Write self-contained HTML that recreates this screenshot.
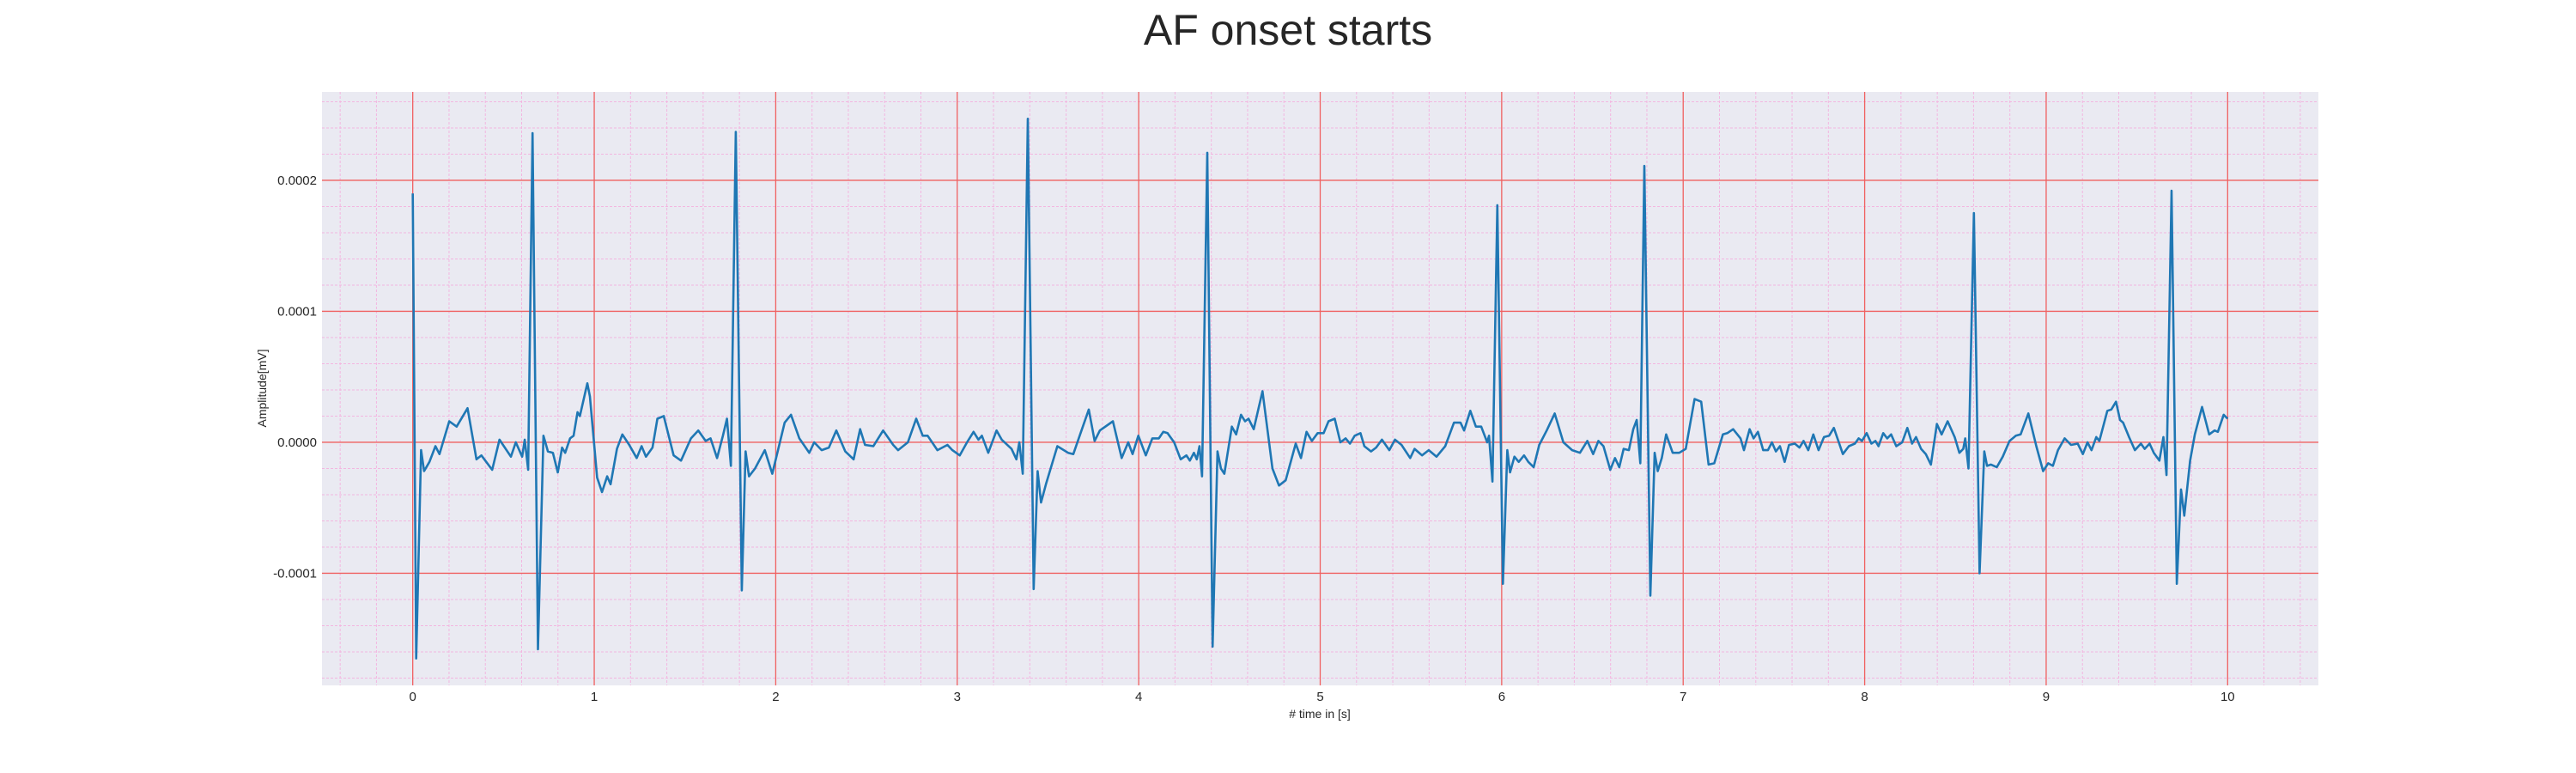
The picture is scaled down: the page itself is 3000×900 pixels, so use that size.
<!DOCTYPE html>
<html><head><meta charset="utf-8">
<style>
html,body{margin:0;padding:0;background:#fff;}
svg{display:block;font-family:"Liberation Sans",sans-serif;}
</style></head>
<body>
<svg id="chart" width="3000" height="900" xmlns="http://www.w3.org/2000/svg">
<text x="1500" y="52" text-anchor="middle" font-size="50" fill="#262626">AF onset starts</text>
<rect x="375" y="107" width="2325" height="691" fill="#eaeaf2"/>
<g id="grid"></g>
<g id="ticks"></g>
<path id="ecg" fill="none" stroke="#1f77b4" stroke-width="2.6" stroke-linejoin="round"/>
<text x="1537" y="836" text-anchor="middle" font-size="14" fill="#262626"># time in [s]</text>
<text transform="translate(310,452) rotate(-90)" text-anchor="middle" font-size="14" fill="#262626">Amplitude[mV]</text>
</svg>
<script>
// data (time in s, amplitude in 1e-5 mV)
const times = [0,0.019,0.046,0.0625,0.092,0.125,0.147,0.201,0.242,0.302,0.351,0.378,0.4375,0.478,0.541,0.568,0.603,0.617,0.636,0.66,0.69,0.72,0.745,0.772,0.799,0.823,0.84,0.867,0.886,0.908,0.921,0.962,0.976,1.016,1.043,1.071,1.09,1.125,1.155,1.193,1.234,1.261,1.285,1.321,1.348,1.383,1.4375,1.478,1.533,1.573,1.614,1.641,1.677,1.709,1.731,1.753,1.78,1.813,1.834,1.853,1.886,1.94,1.981,2.049,2.084,2.13,2.185,2.212,2.253,2.293,2.334,2.383,2.429,2.465,2.492,2.538,2.592,2.647,2.674,2.728,2.774,2.81,2.837,2.891,2.946,2.973,3.014,3.054,3.09,3.117,3.136,3.171,3.217,3.245,3.299,3.326,3.342,3.361,3.389,3.421,3.443,3.462,3.489,3.552,3.611,3.64,3.677,3.725,3.757,3.786,3.858,3.906,3.942,3.966,3.998,4.039,4.075,4.111,4.135,4.159,4.195,4.231,4.263,4.282,4.304,4.32,4.335,4.349,4.378,4.407,4.434,4.453,4.472,4.513,4.537,4.564,4.586,4.605,4.634,4.682,4.737,4.773,4.81,4.865,4.894,4.925,4.954,4.986,5.019,5.046,5.08,5.111,5.14,5.164,5.19,5.222,5.243,5.28,5.308,5.34,5.381,5.412,5.448,5.496,5.52,5.561,5.598,5.641,5.689,5.737,5.773,5.793,5.827,5.858,5.887,5.92,5.93,5.949,5.976,6.007,6.031,6.046,6.07,6.094,6.123,6.147,6.176,6.207,6.248,6.292,6.34,6.388,6.431,6.472,6.504,6.533,6.561,6.598,6.624,6.648,6.672,6.701,6.725,6.744,6.764,6.786,6.819,6.843,6.86,6.882,6.906,6.942,6.978,7.014,7.063,7.099,7.14,7.171,7.219,7.243,7.275,7.316,7.335,7.366,7.388,7.412,7.441,7.467,7.489,7.511,7.533,7.559,7.583,7.615,7.641,7.663,7.689,7.717,7.746,7.776,7.804,7.83,7.88,7.913,7.946,7.967,7.985,8.011,8.037,8.059,8.076,8.102,8.124,8.146,8.174,8.207,8.235,8.261,8.283,8.311,8.337,8.365,8.398,8.424,8.457,8.496,8.522,8.543,8.554,8.572,8.602,8.633,8.659,8.674,8.696,8.728,8.761,8.798,8.833,8.859,8.902,8.946,8.983,9.011,9.037,9.065,9.102,9.137,9.174,9.202,9.228,9.25,9.276,9.293,9.337,9.359,9.385,9.407,9.424,9.457,9.489,9.522,9.543,9.57,9.593,9.624,9.646,9.663,9.691,9.72,9.743,9.761,9.793,9.819,9.859,9.898,9.928,9.946,9.978,10.0];
const amps = [19,-16.5,-0.6,-2.2,-1.5,-0.3,-0.9,1.6,1.2,2.6,-1.3,-1.0,-2.1,0.2,-1.1,0,-1.1,0.2,-2.1,23.6,-15.8,0.5,-0.7,-0.8,-2.3,-0.4,-0.8,0.3,0.5,2.3,2.0,4.5,3.5,-2.7,-3.8,-2.6,-3.2,-0.5,0.6,-0.2,-1.2,-0.3,-1.1,-0.4,1.8,2.0,-1.0,-1.4,0.3,0.9,0.1,0.3,-1.2,0.5,1.8,-1.8,23.7,-11.3,-0.7,-2.6,-2.0,-0.6,-2.4,1.5,2.1,0.3,-0.8,0,-0.6,-0.4,0.9,-0.7,-1.3,1.0,-0.2,-0.3,0.9,-0.2,-0.6,0,1.8,0.5,0.5,-0.6,-0.2,-0.6,-1.0,0,0.8,0.2,0.5,-0.8,0.9,0.2,-0.5,-1.3,0,-2.4,24.7,-11.2,-2.2,-4.6,-3.2,-0.3,-0.8,-0.9,0.6,2.5,0.1,0.9,1.6,-1.2,0,-0.9,0.5,-1.0,0.3,0.3,0.8,0.7,0,-1.3,-1.0,-1.4,-0.8,-1.3,-0.3,-2.6,22.1,-15.6,-0.7,-2.0,-2.4,1.2,0.6,2.1,1.6,1.8,1.0,3.9,-2.0,-3.3,-2.9,-0.1,-1.2,0.8,0.1,0.7,0.7,1.6,1.8,0,0.3,-0.1,0.5,0.7,-0.3,-0.7,-0.4,0.2,-0.6,0.2,-0.2,-1.2,-0.5,-1.0,-0.6,-1.1,-0.3,1.5,1.5,0.9,2.4,1.2,1.2,0,0.5,-3.0,18.1,-10.8,-0.6,-2.3,-1.1,-1.5,-1.0,-1.5,-1.9,-0.2,0.9,2.2,0,-0.6,-0.8,0.1,-0.9,0.1,-0.3,-2.1,-1.2,-1.9,-0.5,-0.6,1.0,1.7,-1.6,21.1,-11.7,-0.8,-2.2,-1.2,0.6,-0.8,-0.8,-0.5,3.3,3.1,-1.7,-1.6,0.6,0.7,1.0,0.3,-0.6,1.0,0.3,0.8,-0.6,-0.6,0,-0.7,-0.3,-1.5,-0.2,-0.1,-0.4,0.1,-0.6,0.6,-0.6,0.4,0.5,1.1,-0.9,-0.3,-0.1,0.3,0.1,0.7,-0.1,0.1,-0.3,0.7,0.3,0.6,-0.3,0,1.1,-0.1,0.4,-0.5,-0.9,-1.7,1.4,0.6,1.6,0.4,-0.8,-0.5,0.3,-2.0,17.5,-10.0,-0.7,-1.8,-1.7,-1.9,-1.1,0.1,0.5,0.6,2.2,-0.3,-2.2,-1.6,-1.8,-0.6,0.3,-0.2,-0.1,-0.9,0,-0.6,0.4,0.1,2.4,2.5,3.1,1.7,1.5,0.4,-0.6,-0.1,-0.5,-0.1,-0.8,-1.4,0.4,-2.5,19.2,-10.8,-3.6,-5.6,-1.4,0.6,2.7,0.6,0.9,0.8,2.1,1.8];
const xTickVals = [0,1,2,3,4,5,6,7,8,9,10];
const yTickVals = [-0.0001,0,0.0001,0.0002];
const yTickLabels = ["-0.0001","0.0000","0.0001","0.0002"];

const L=375,R=2700,T=107,B=798;
const xMin=-0.5,xMax=10.5,yMin=-1.856e-4,yMax=2.675e-4;
function xs(t){return L+(t-xMin)/(xMax-xMin)*(R-L);}
function ys(v){return B-(v-yMin)/(yMax-yMin)*(B-T);}
const NS="http://www.w3.org/2000/svg";
const grid=document.getElementById('grid');
const ticks=document.getElementById('ticks');
function line(x1,y1,x2,y2,stroke,w,dash,name){
  const l=document.createElementNS(NS,'line');
  l.setAttribute('x1',x1);l.setAttribute('y1',y1);l.setAttribute('x2',x2);l.setAttribute('y2',y2);
  l.setAttribute('stroke',stroke);l.setAttribute('stroke-width',w);
  if(dash)l.setAttribute('stroke-dasharray',dash);
  
  
  grid.appendChild(l);
}
for(let i=-25;i<=55;i++){const t=i*0.2;if(t<xMin||t>xMax)continue;if(Math.abs(t-Math.round(t))<1e-9)continue;
  line(xs(t),T,xs(t),B,'#f3b6e0',1,'3,2','x-minor-gridline');}
for(let i=-10;i<=14;i++){const v=i*2e-5;if(v<yMin||v>yMax)continue;if(i%5===0)continue;
  line(L,ys(v),R,ys(v),'#f3b6e0',1,'3,2','y-minor-gridline');}
xTickVals.forEach(t=>line(xs(t),T,xs(t),B,'#f06060',1.3,null,'x-major-gridline'));
yTickVals.forEach(v=>line(L,ys(v),R,ys(v),'#f06060',1.3,null,'y-major-gridline'));
xTickVals.forEach(t=>{const tx=document.createElementNS(NS,'text');
  tx.setAttribute('x',xs(t));tx.setAttribute('y',816);tx.setAttribute('text-anchor','middle');
  tx.setAttribute('font-size','15');tx.setAttribute('fill','#262626');tx.textContent=String(t);
  
  
  ticks.appendChild(tx);});
yTickVals.forEach((v,i)=>{const tx=document.createElementNS(NS,'text');
  tx.setAttribute('x',369);tx.setAttribute('y',ys(v)+5);tx.setAttribute('text-anchor','end');
  tx.setAttribute('font-size','15');tx.setAttribute('fill','#262626');tx.textContent=yTickLabels[i];
  
  
  ticks.appendChild(tx);});
let d='';
times.forEach((t,i)=>{d+=(i?'L':'M')+xs(t).toFixed(1)+','+ys(amps[i]*1e-5).toFixed(1);});
document.getElementById('ecg').setAttribute('d',d);
</script>
</body></html>
